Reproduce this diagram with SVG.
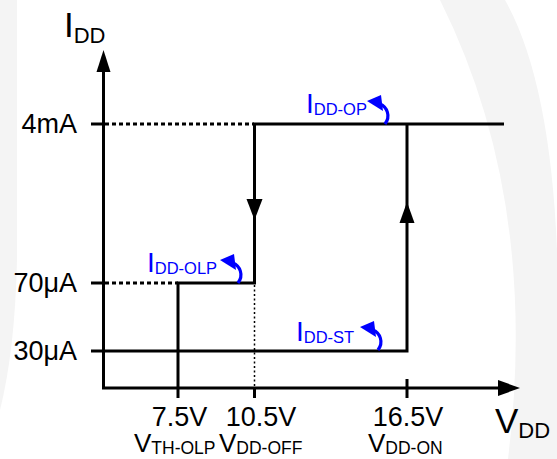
<svg xmlns="http://www.w3.org/2000/svg" width="557" height="459" viewBox="0 0 557 459">
<style>
.ln{stroke:#000;stroke-width:3;fill:none}
.dash{stroke:#000;stroke-width:3;stroke-dasharray:4 3;fill:none}
.dot{stroke:#000;stroke-width:1.5;stroke-dasharray:2 2.5;fill:none}
.t{font-family:"Liberation Sans",Arial,sans-serif;fill:#000}
.b{fill:#0000ff}
.bg{fill:#f4f4f4}
</style>
<defs>
<g id="curl">
<path d="M -5 -20 C 2 -17 6 -8 0 0" stroke="#0000ff" stroke-width="3.2" fill="none"/>
<polygon points="-18,-23 -4,-29 -2,-13" fill="#0000ff"/>
</g>
</defs>
<rect width="557" height="459" fill="#fff"/>
<g id="background">
<path class="bg" d="M0 0 H17 V260 Q15 350 0 410 Z"/>
<path class="bg" d="M440 0 Q540 200 508 459 L557 459 L557 250 Q550 80 505 0 Z"/>
</g>
<g id="axes">
<line class="ln" x1="103.5" y1="70" x2="103.5" y2="389"/>
<polygon points="103.5,50 96.5,72 110.5,72"/>
<line class="ln" x1="102" y1="388" x2="500" y2="388"/>
<polygon points="520,388 498,380 498,396"/>
<line class="ln" x1="91" y1="124" x2="104" y2="124"/>
<line class="ln" x1="91" y1="283" x2="104" y2="283"/>
<line class="ln" x1="407" y1="379" x2="407" y2="398"/>
<line class="ln" x1="254.5" y1="388" x2="254.5" y2="398"/>
</g>
<g id="connectors">
<line class="dash" x1="105" y1="124" x2="254" y2="124"/>
<line class="dash" x1="105" y1="283" x2="178" y2="283"/>
<line class="dot" x1="254.5" y1="285" x2="254.5" y2="388"/>
<polyline class="ln" points="504,124 254.5,124 254.5,283 178,283 178,398"/>
<polyline class="ln" points="91,351 407,351 407,124"/>
<polygon points="254.5,220 246.5,199 262.5,199"/>
<polygon points="407,202 399.5,223 414.5,223"/>
</g>
<g id="labels">
<text class="t" x="77" y="133" font-size="27" text-anchor="end">4mA</text>
<text class="t" x="77" y="292" font-size="27" text-anchor="end">70μA</text>
<text class="t" x="77" y="360" font-size="27" text-anchor="end">30μA</text>
<text class="t" x="64" y="37" font-size="35">I<tspan font-size="22" dy="6">DD</tspan></text>
<text class="t" x="495" y="433" font-size="35">V<tspan font-size="22" dy="5">DD</tspan></text>
<text class="t" x="179.5" y="426" font-size="27" text-anchor="middle">7.5V</text>
<text class="t" x="261" y="426" font-size="27" text-anchor="middle">10.5V</text>
<text class="t" x="408" y="426" font-size="27" text-anchor="middle">16.5V</text>
<text class="t" x="134" y="452" font-size="26">V<tspan font-size="17.5" dy="2">TH-OLP</tspan></text>
<text class="t" x="219" y="452" font-size="26">V<tspan font-size="17.5" dy="2">DD-OFF</tspan></text>
<text class="t" x="368" y="452" font-size="26">V<tspan font-size="17.5" dy="2">DD-ON</tspan></text>
</g>
<g id="idd-op">
<text class="t b" x="306" y="113" font-size="28">I<tspan font-size="16.5" dy="1.5">DD-OP</tspan></text>
<use href="#curl" transform="translate(385,124)"/>
</g>
<g id="idd-olp">
<text class="t b" x="147" y="272" font-size="28">I<tspan font-size="16.5" dy="1.5">DD-OLP</tspan></text>
<use href="#curl" transform="translate(238,283)"/>
</g>
<g id="idd-st">
<text class="t b" x="296" y="341" font-size="28">I<tspan font-size="16.5" dy="1.5">DD-ST</tspan></text>
<use href="#curl" transform="translate(378,350)"/>
</g>
</svg>
